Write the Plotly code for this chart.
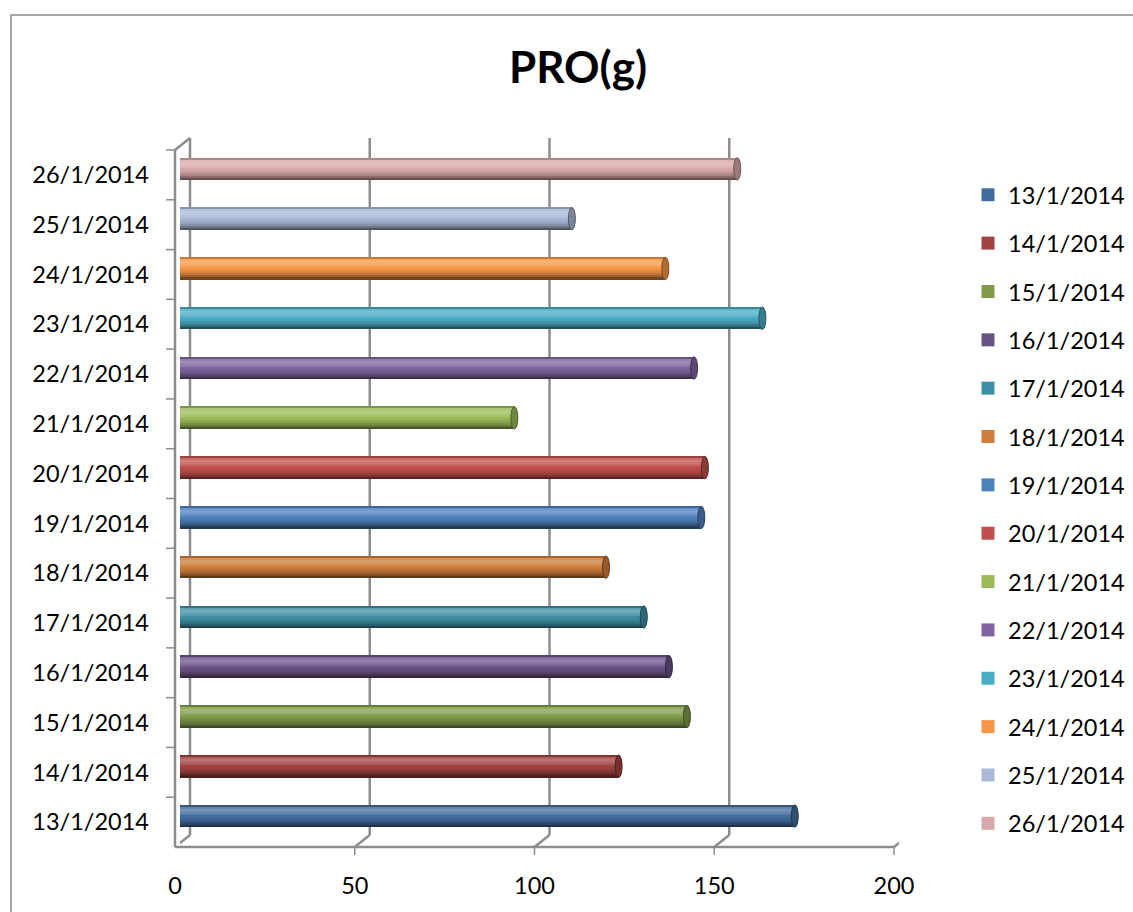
import plotly.graph_objects as go

# ---- data -------------------------------------------------------------
dates = [
    "13/1/2014", "14/1/2014", "15/1/2014", "16/1/2014", "17/1/2014",
    "18/1/2014", "19/1/2014", "20/1/2014", "21/1/2014", "22/1/2014",
    "23/1/2014", "24/1/2014", "25/1/2014", "26/1/2014",
]
protein_g = [171, 122, 141, 136, 129, 118.5, 145, 146, 93, 143, 162, 135, 109, 155]
bar_colors = [
    "#426C9F", "#A14341", "#809B4A", "#6A5287", "#3E8FA5", "#CD7D3B",
    "#4F81BD", "#C0504D", "#9BBB59", "#8064A2", "#4BACC6", "#F79646",
    "#A9B9D6", "#D8A9A8",
]
x_ticks = [0, 50, 100, 150, 200]

# ---- geometry (pixels) ------------------------------------------------
W, H = 1133, 912
M_L, M_R, M_T, M_B = 180, 234, 144, 71
PLOT_W = W - M_L - M_R
PLOT_H = H - M_T - M_B
FRONT_DX, FRONT_DY = -5, -6      # front wall relative to the bar plane
BACK_DX, BACK_DY = 10, 6         # back wall relative to the bar plane
GRID = "#8C8C8C"
FONT = "Lato"

BAR_T = 0.45                     # cylinder thickness in category units
# top-to-bottom shading of the cylinder body
SHADES = [0.80, 1.10, 1.16, 1.13, 1.08, 1.0, 0.95, 0.88, 0.78, 0.64, 0.46]


def shade(hex_color, f):
    r, g, b = (int(hex_color[i:i + 2], 16) for i in (1, 3, 5))
    if f >= 1:
        r, g, b = (c + (255 - c) * (f - 1) * 1.6 for c in (r, g, b))
    else:
        r, g, b = (c * f for c in (r, g, b))
    return "rgb(%d,%d,%d)" % tuple(max(0, min(255, round(c))) for c in (r, g, b))


fig = go.Figure()
shapes = []

# chart border (left and top edges visible, the rest runs off the page)
shapes.append(dict(
    type="rect", layer="below", xref="paper", yref="paper",
    xsizemode="pixel", ysizemode="pixel", xanchor=0, yanchor=0,
    x0=11 - M_L, x1=W + 50, y0=-(M_B + 50), y1=PLOT_H + M_T - 15,
    line=dict(color=GRID, width=1.5), fillcolor="rgba(0,0,0,0)",
))

# back-wall gridlines, floor diagonals and front ticks
for v in x_ticks:
    shapes.append(dict(
        type="line", layer="below", xref="x", yref="paper",
        xsizemode="pixel", ysizemode="pixel", xanchor=v, yanchor=0,
        x0=BACK_DX, x1=BACK_DX, y0=BACK_DY, y1=PLOT_H + BACK_DY,
        line=dict(color=GRID, width=2.5),
    ))
    shapes.append(dict(
        type="line", layer="below", xref="x", yref="paper",
        xsizemode="pixel", ysizemode="pixel", xanchor=v, yanchor=0,
        x0=FRONT_DX, x1=BACK_DX, y0=FRONT_DY, y1=BACK_DY,
        line=dict(color=GRID, width=2.5),
    ))
    shapes.append(dict(
        type="line", layer="below", xref="x", yref="paper",
        xsizemode="pixel", ysizemode="pixel", xanchor=v, yanchor=0,
        x0=FRONT_DX, x1=FRONT_DX, y0=FRONT_DY, y1=FRONT_DY - 8,
        line=dict(color=GRID, width=1.5),
    ))

# front floor edge
shapes.append(dict(
    type="line", layer="below", xref="paper", yref="paper",
    xsizemode="pixel", ysizemode="pixel", xanchor=0, yanchor=0,
    x0=FRONT_DX, x1=PLOT_W + FRONT_DX, y0=FRONT_DY, y1=FRONT_DY,
    line=dict(color=GRID, width=2.5),
))
# left wall front edge and its top diagonal
shapes.append(dict(
    type="line", layer="below", xref="paper", yref="paper",
    xsizemode="pixel", ysizemode="pixel", xanchor=0, yanchor=0,
    x0=FRONT_DX, x1=FRONT_DX, y0=FRONT_DY, y1=PLOT_H + FRONT_DY,
    line=dict(color=GRID, width=2.5),
))
shapes.append(dict(
    type="line", layer="below", xref="paper", yref="paper",
    xsizemode="pixel", ysizemode="pixel", xanchor=0, yanchor=0,
    x0=FRONT_DX, x1=BACK_DX, y0=PLOT_H + FRONT_DY, y1=PLOT_H + BACK_DY,
    line=dict(color=GRID, width=2.5),
))
# category ticks on the left wall
for k in range(len(dates) + 1):
    shapes.append(dict(
        type="line", layer="below", xref="paper", yref="y",
        xsizemode="pixel", ysizemode="pixel", xanchor=0, yanchor=k - 0.5,
        x0=FRONT_DX, x1=FRONT_DX - 9, y0=FRONT_DY, y1=FRONT_DY,
        line=dict(color=GRID, width=1.5),
    ))

# cylinders: stacked horizontal slices give the round shading
slice_w = BAR_T / len(SHADES)
for i, (d, v, c) in enumerate(zip(dates, protein_g, bar_colors)):
    for s, f in enumerate(SHADES):
        fig.add_trace(go.Bar(
            x=[v], y=[d], orientation="h",
            width=slice_w * 1.08, offset=BAR_T / 2 - (s + 1) * slice_w,
            marker=dict(color=shade(c, f), line=dict(width=0)),
            name=d, legendgroup=d, showlegend=False,
            hoverinfo="skip" if f != 1.0 else None,
        ))
    # legend swatch for this date
    fig.add_trace(go.Scatter(
        x=[None], y=[None], mode="markers", name=d, legendgroup=d,
        marker=dict(symbol="square", size=13, color=c),
        hoverinfo="skip",
    ))
    # rounded left end
    shapes.append(dict(
        type="circle", layer="below", xref="x", yref="y",
        xsizemode="pixel", xanchor=0, x0=-2.5, x1=2.5,
        y0=i - BAR_T / 2, y1=i + BAR_T / 2,
        fillcolor=shade(c, 0.92), line=dict(width=0),
    ))
    # end face of the cylinder
    shapes.append(dict(
        type="circle", layer="above", xref="x", yref="y",
        xsizemode="pixel", xanchor=v, x0=-3.5, x1=3.5,
        y0=i - BAR_T / 2, y1=i + BAR_T / 2,
        fillcolor=shade(c, 0.72), line=dict(color=shade(c, 0.5), width=1),
    ))

fig.update_layout(
    width=W, height=H,
    margin=dict(l=M_L, r=M_R, t=M_T, b=M_B, autoexpand=False),
    paper_bgcolor="white", plot_bgcolor="rgba(0,0,0,0)",
    barmode="overlay", bargap=0,
    font=dict(family=FONT, size=23.5, color="#000000"),
    title=dict(
        text="<b>PRO(g)</b>", x=578 / W, xref="container", xanchor="center",
        y=1 - 68 / H, yref="container", yanchor="middle",
        font=dict(family=FONT, size=44, color="#000000"),
    ),
    xaxis=dict(
        range=[0, 200], tickvals=x_ticks, showgrid=False, zeroline=False,
        showline=False, ticks="", ticklabelshift=FRONT_DX,
        ticklabelstandoff=28, fixedrange=True,
    ),
    yaxis=dict(
        type="category", categoryorder="array", categoryarray=dates,
        range=[-0.5, len(dates) - 0.5], showgrid=False, zeroline=False,
        showline=False, ticks="", ticklabelshift=-FRONT_DY,
        ticklabelstandoff=30, fixedrange=True,
    ),
    legend=dict(
        traceorder="grouped", tracegroupgap=14.8, maxheight=800,
        x=968 / W, xref="container", xanchor="left",
        y=1 - 173 / H, yref="container", yanchor="top",
        font=dict(family=FONT, size=23.5, color="#000000"),
        bgcolor="rgba(0,0,0,0)", itemclick=False, itemdoubleclick=False,
    ),
    shapes=shapes,
    showlegend=True,
)

fig.write_html("out.html")
